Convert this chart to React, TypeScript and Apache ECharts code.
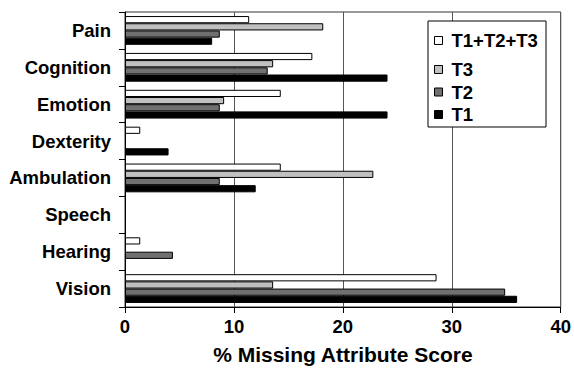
import React, { useEffect, useRef } from "react";
import * as echarts from "echarts";

const categories = ["Pain", "Cognition", "Emotion", "Dexterity", "Ambulation", "Speech", "Hearing", "Vision"];
const seriesNames = ["T1+T2+T3", "T3", "T2", "T1"];
const allT = [11.4, 17.2, 14.3, 1.4, 14.3, 0, 1.4, 28.6];
const t3 = [18.2, 13.6, 9.1, 0, 22.8, 0, 0, 13.6];
const t2 = [8.7, 13.1, 8.7, 0, 8.7, 0, 4.4, 34.9];
const t1 = [8.0, 24.1, 24.1, 4.0, 12.0, 0, 0, 36.0];
const xTicks = [0, 10, 20, 30, 40];

const colors = ["#ffffff", "#c0c0c0", "#707070", "#000000"];
const FONT = "'Liberation Sans', Arial, Helvetica, sans-serif";

export default function App() {
  const ref = useRef<HTMLDivElement>(null);
  useEffect(() => {
    if (!ref.current) return;
    const chart = echarts.init(ref.current, undefined, { renderer: "svg" });
    const values = [allT, t3, t2, t1];
    const legendText = { fontFamily: FONT, fontWeight: "bold", fontSize: 18.5, color: "#000", padding: [0, 0, 0, 4] };
    chart.setOption({
      animation: false,
      backgroundColor: "#ffffff",
      grid: {
        left: 125,
        right: 11,
        top: 12,
        bottom: 60,
        show: true,
        borderColor: "#333",
        borderWidth: 1,
        backgroundColor: "transparent",
      },
      xAxis: {
        type: "value",
        min: xTicks[0],
        max: xTicks[xTicks.length - 1],
        interval: 10,
        name: "% Missing Attribute Score",
        nameLocation: "middle",
        nameGap: 37,
        nameTextStyle: { fontFamily: FONT, fontWeight: "bold", fontSize: 21, color: "#000" },
        axisLine: { show: true, lineStyle: { color: "#000", width: 1 } },
        axisTick: { show: true, length: 6, lineStyle: { color: "#000" } },
        axisLabel: { fontFamily: FONT, fontWeight: "bold", fontSize: 18.5, color: "#000", margin: 10 },
        splitLine: { show: true, lineStyle: { color: "#555", width: 1 } },
      },
      yAxis: {
        type: "category",
        data: categories,
        inverse: true,
        axisLine: { show: true, lineStyle: { color: "#000", width: 1 } },
        axisTick: { show: true, length: 6, lineStyle: { color: "#000" } },
        axisLabel: { fontFamily: FONT, fontWeight: "bold", fontSize: 18.5, color: "#000", margin: 14 },
        splitLine: { show: false },
      },
      graphic: [
        {
          type: "rect",
          z: 10,
          shape: { x: 428, y: 21, width: 118, height: 106 },
          style: { fill: "#fff", stroke: "#000", lineWidth: 1 },
        },
      ],
      legend: [
        {
          data: [seriesNames[0]],
          orient: "vertical",
          left: 434,
          top: 31,
          padding: 0,
          z: 20,
          icon: "rect",
          itemWidth: 8,
          itemHeight: 8,
          itemStyle: { borderColor: "#000", borderWidth: 1 },
          textStyle: legendText,
        },
        {
          data: seriesNames.slice(1),
          orient: "vertical",
          left: 434,
          top: 60,
          padding: 0,
          itemGap: 3.5,
          z: 20,
          icon: "rect",
          itemWidth: 8,
          itemHeight: 8,
          itemStyle: { borderColor: "#000", borderWidth: 1 },
          textStyle: legendText,
        },
      ],
      series: seriesNames.map((name, i) => ({
        name,
        type: "bar",
        data: values[i].map((v) => (v === 0 ? null : v)),
        barGap: "0%",
        barCategoryGap: "22%",
        itemStyle: { color: colors[i], borderColor: "#000", borderWidth: 1 },
      })),
    });
    return () => chart.dispose();
  }, []);
  return (
    <div
      ref={ref}
      style={{ position: "fixed", left: 0, top: 0, width: 574, height: 370 }}
    />
  );
}
